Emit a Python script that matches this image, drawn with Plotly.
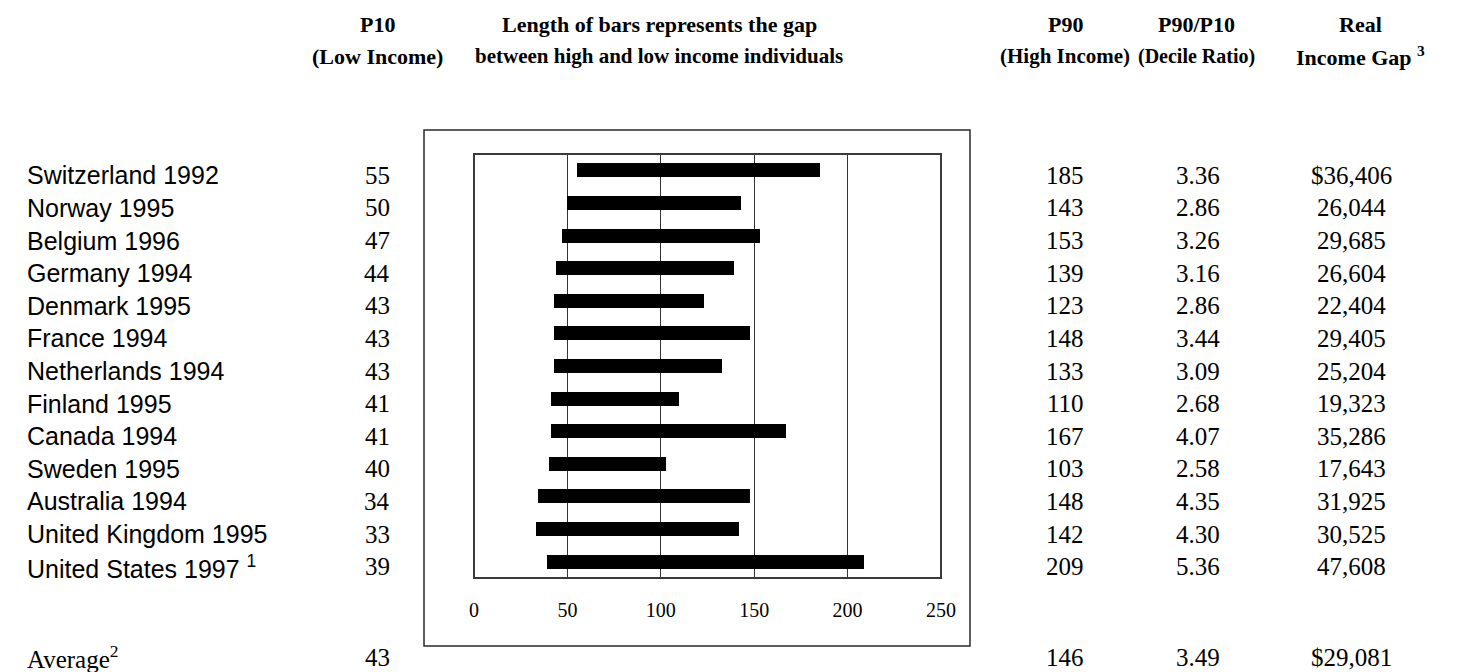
import plotly.graph_objects as go

countries = ["Switzerland 1992", "Norway 1995", "Belgium 1996", "Germany 1994", "Denmark 1995",
             "France 1994", "Netherlands 1994", "Finland 1995", "Canada 1994", "Sweden 1995",
             "Australia 1994", "United Kingdom 1995", "United States 1997 <sup>1</sup>"]
p10 = [55, 50, 47, 44, 43, 43, 43, 41, 41, 40, 34, 33, 39]
p90 = [185, 143, 153, 139, 123, 148, 133, 110, 167, 103, 148, 142, 209]
ratio = ["3.36", "2.86", "3.26", "3.16", "2.86", "3.44", "3.09", "2.68", "4.07", "2.58", "4.35", "4.30", "5.36"]
gap = ["$36,406", "26,044", "29,685", "26,604", "22,404", "29,405", "25,204", "19,323",
       "35,286", "17,643", "31,925", "30,525", "47,608"]
avg_label = "Average<sup>2</sup>"
avg_p10 = "43"
avg_p90 = "146"
avg_ratio = "3.49"
avg_gap = "$29,081"
tick_vals = [0, 50, 100, 150, 200, 250]

W, H = 1474, 672
L, R, T, B = 466, 933, 146, 570  # plot area in pixels


def px(x):
    return (x - L) / (R - L)


def py(y):
    return (B - y) / (B - T)


SERIF = "Liberation Serif"
SANS = "Liberation Sans"
rows = list(range(len(countries)))

fig = go.Figure()
fig.add_trace(go.Bar(
    y=rows, x=[h - l for h, l in zip(p90, p10)], base=p10, orientation="h",
    marker=dict(color="black", line=dict(width=0)), width=0.43, hoverinfo="skip"))

ann = []
col_x = {"p10": 369, "p90": 1057, "ratio": 1190, "gap": 1343}
for i in rows:
    common = dict(yref="y", y=i, yshift=-5, showarrow=False, xref="paper", yanchor="middle")
    ann.append(dict(x=px(17), xanchor="left", text=countries[i],
                    font=dict(family=SANS, size=25, color="black"), **common))
    for key, vals in (("p10", p10), ("p90", p90), ("ratio", ratio), ("gap", gap)):
        ann.append(dict(x=px(col_x[key]), xanchor="center", text=str(vals[i]),
                        font=dict(family=SERIF, size=25, color="black"), **common))

avg_y = py(649)
ann.append(dict(x=px(17), xanchor="left", yanchor="middle", xref="paper", yref="paper", y=avg_y,
                showarrow=False, text=avg_label, font=dict(family=SERIF, size=25, color="black")))
for key, v in (("p10", avg_p10), ("p90", avg_p90), ("ratio", avg_ratio), ("gap", avg_gap)):
    ann.append(dict(x=px(col_x[key]), xanchor="center", yanchor="middle", xref="paper", yref="paper",
                    y=avg_y, showarrow=False, text=v, font=dict(family=SERIF, size=25, color="black")))

headers = [
    (369, "P10", "(Low Income)", 22),
    (651, "Length of bars represents the gap", "between high and low income individuals", 21),
    (1057, "P90", "(High Income)", 21),
    (1188, "P90/P10", "(Decile Ratio)", 20),
    (1352, "Real", "Income Gap <sup>3</sup>", 22),
]
for x, t1, t2, s2 in headers:
    ann.append(dict(x=px(x), y=py(17), xref="paper", yref="paper", showarrow=False,
                    xanchor="center", yanchor="middle",
                    text="<b>" + t1 + "</b>", font=dict(family=SERIF, size=22, color="black")))
    ann.append(dict(x=px(x), y=py(48), xref="paper", yref="paper", showarrow=False,
                    xanchor="center", yanchor="middle",
                    text="<b>" + t2 + "</b>", font=dict(family=SERIF, size=s2, color="black")))

shapes = [
    dict(type="rect", xref="paper", yref="paper", x0=px(416), x1=px(962), y0=py(638), y1=py(122),
         line=dict(color="#2a2a2a", width=1.5), layer="below"),
    dict(type="rect", xref="paper", yref="paper", x0=0, x1=1, y0=0, y1=1,
         line=dict(color="#3a3a3a", width=2), layer="above"),
]

fig.update_layout(
    width=W, height=H,
    margin=dict(l=L, r=W - R, t=T, b=H - B, pad=0),
    paper_bgcolor="white", plot_bgcolor="white",
    showlegend=False, bargap=0,
    annotations=ann, shapes=shapes,
    xaxis=dict(range=[0, 250], tickvals=tick_vals, showgrid=True, gridcolor="#333333", gridwidth=1,
               zeroline=False, showline=False, ticks="", ticklabelstandoff=18,
               tickfont=dict(family=SERIF, size=20, color="black"), fixedrange=True),
    yaxis=dict(range=[12.5, -0.5], showticklabels=False, showgrid=False, zeroline=False,
               showline=False, ticks="", fixedrange=True),
)

fig.write_html("out.html")
